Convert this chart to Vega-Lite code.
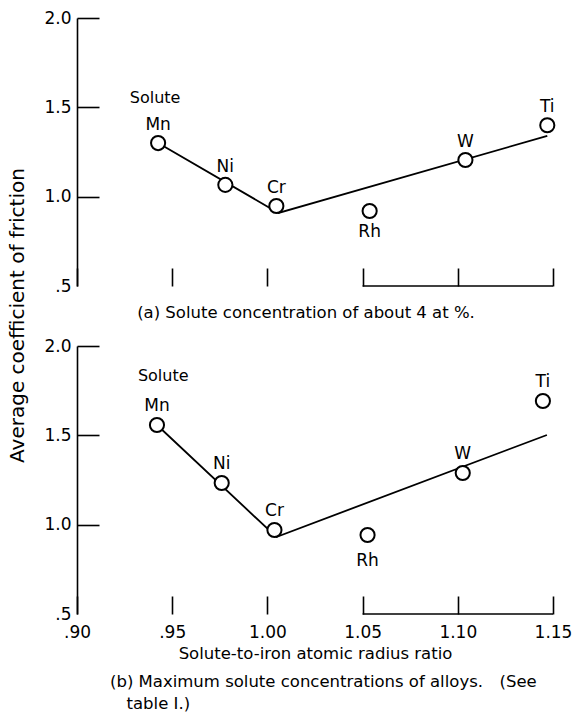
{
  "$schema": "https://vega.github.io/schema/vega-lite/v6.json",
  "background": "white",
  "padding": {"left": 7, "top": 9, "right": 4, "bottom": 4},
  "config": {
    "font": "DejaVu Sans",
    "view": {"stroke": null},
    "axis": {"grid": false, "domainColor": "black", "domainWidth": 1.6, "tickColor": "black", "tickWidth": 1.6, "labelColor": "black", "labelFontSize": 17, "titleColor": "black", "titleFontWeight": "normal", "titleFontSize": 16.5, "labelFont": "DejaVu Sans", "titleFont": "DejaVu Sans"},
    "title": {"fontWeight": "normal", "fontSize": 16.5, "color": "black", "font": "DejaVu Sans"},
    "text": {"color": "black", "font": "DejaVu Sans"}
  },
  "datasets": {
    "points": [
      {"panel": "a", "solute": "Mn", "ratio": 0.9426, "friction": 1.30},
      {"panel": "a", "solute": "Ni", "ratio": 0.9779, "friction": 1.066},
      {"panel": "a", "solute": "Cr", "ratio": 1.0047, "friction": 0.948},
      {"panel": "a", "solute": "Rh", "ratio": 1.0537, "friction": 0.92},
      {"panel": "a", "solute": "W", "ratio": 1.104, "friction": 1.205},
      {"panel": "a", "solute": "Ti", "ratio": 1.147, "friction": 1.40},
      {"panel": "b", "solute": "Mn", "ratio": 0.942, "friction": 1.558},
      {"panel": "b", "solute": "Ni", "ratio": 0.976, "friction": 1.233},
      {"panel": "b", "solute": "Cr", "ratio": 1.0037, "friction": 0.970},
      {"panel": "b", "solute": "Rh", "ratio": 1.0526, "friction": 0.942},
      {"panel": "b", "solute": "W", "ratio": 1.1026, "friction": 1.289},
      {"panel": "b", "solute": "Ti", "ratio": 1.1447, "friction": 1.692}
    ],
    "fit": [
      {"panel": "a", "ratio": 0.9426, "friction": 1.30},
      {"panel": "a", "ratio": 1.0058, "friction": 0.909},
      {"panel": "a", "ratio": 1.147, "friction": 1.34},
      {"panel": "b", "ratio": 0.942, "friction": 1.558},
      {"panel": "b", "ratio": 1.0047, "friction": 0.931},
      {"panel": "b", "ratio": 1.1468, "friction": 1.502}
    ],
    "notes": [
      {"panel": "a", "ratio": 0.941, "friction": 1.552, "note": "Solute"},
      {"panel": "b", "ratio": 0.9453, "friction": 1.832, "note": "Solute"}
    ],
    "baseline": [
      {"panel": "a", "ratio": 1.05, "ratio_end": 1.15, "friction": 0.5},
      {"panel": "b", "ratio": 1.05, "ratio_end": 1.15, "friction": 0.5}
    ]
  },
  "spacing": 60,
  "bounds": "flush",
  "vconcat": [
    {
      "width": 476,
      "height": 268,
      "title": {"text": "(a) Solute concentration of about 4 at %.", "orient": "bottom", "anchor": "middle", "frame": "group", "dx": -9, "offset": 11},
      "encoding": {
        "x": {"field": "ratio", "type": "quantitative", "scale": {"domain": [0.9, 1.15], "nice": false, "zero": false},
          "axis": {"title": null, "labels": false, "values": [0.9, 0.95, 1.0, 1.05, 1.1, 1.15], "tickSize": -18, "domain": false}},
        "y": {"field": "friction", "type": "quantitative", "scale": {"domain": [0.5, 2.0], "nice": false, "zero": false},
          "axis": {"title": null,
            "values": [0.5, 1.0, 1.5, 2.0], "tickSize": -22, "labelPadding": 28,
            "labelExpr": "datum.value == 0.5 ? '.5' : format(datum.value, '.1f')",
            "tickColor": {"condition": {"test": "datum.value == 0.5", "value": "transparent"}, "value": "black"}}}
      },
      "layer": [
        {"data": {"name": "baseline"}, "transform": [{"filter": "datum.panel === 'a'"}],
          "mark": {"type": "rule", "color": "black", "strokeWidth": 1.6},
          "encoding": {"x2": {"field": "ratio_end"}}},
        {"data": {"name": "fit"}, "transform": [{"filter": "datum.panel === 'a'"}],
          "mark": {"type": "line", "color": "black", "strokeWidth": 1.8}},
        {"data": {"name": "points"}, "transform": [{"filter": "datum.panel === 'a'"}],
          "mark": {"type": "point", "shape": "circle", "filled": true, "fill": "white", "stroke": "black", "strokeWidth": 2, "size": 200, "opacity": 1}},
        {"data": {"name": "points"}, "transform": [{"filter": "datum.panel === 'a' && datum.solute !== 'Rh'"}],
          "mark": {"type": "text", "fontSize": 17, "dy": -18, "baseline": "middle"},
          "encoding": {"text": {"field": "solute"}}},
        {"data": {"name": "points"}, "transform": [{"filter": "datum.panel === 'a' && datum.solute === 'Rh'"}],
          "mark": {"type": "text", "fontSize": 17, "dy": 21, "baseline": "middle"},
          "encoding": {"text": {"field": "solute"}}},
        {"data": {"name": "notes"}, "transform": [{"filter": "datum.panel === 'a'"}],
          "mark": {"type": "text", "fontSize": 16, "baseline": "middle"},
          "encoding": {"text": {"field": "note"}}}
      ]
    },
    {
      "width": 476,
      "height": 268,
      "title": {"text": ["(b) Maximum solute concentrations of alloys.\u2002\u2002(See", "\u200b\u2002\u2002table I.)"], "orient": "bottom", "anchor": "start", "align": "left", "frame": "group", "dx": 33, "offset": 12, "lineHeight": 22},
      "encoding": {
        "x": {"field": "ratio", "type": "quantitative", "scale": {"domain": [0.9, 1.15], "nice": false, "zero": false},
          "axis": {"title": "Solute-to-iron atomic radius ratio", "values": [0.9, 0.95, 1.0, 1.05, 1.1, 1.15], "tickSize": -18, "domain": false, "labelPadding": 28, "labelFlush": false, "titlePadding": 5,
            "labelExpr": "datum.value < 1 ? replace(format(datum.value, '.2f'), '0.', '.') : format(datum.value, '.2f')"}},
        "y": {"field": "friction", "type": "quantitative", "scale": {"domain": [0.5, 2.0], "nice": false, "zero": false},
          "axis": {"title": "Average coefficient of friction", "titleFontSize": 20, "titleX": -60, "titleY": -31, "titleBaseline": "middle", "titleAngle": -90, "titleAlign": "center",
            "values": [0.5, 1.0, 1.5, 2.0], "tickSize": -22, "labelPadding": 28,
            "labelExpr": "datum.value == 0.5 ? '.5' : format(datum.value, '.1f')",
            "tickColor": {"condition": {"test": "datum.value == 0.5", "value": "transparent"}, "value": "black"}}}
      },
      "layer": [
        {"data": {"name": "baseline"}, "transform": [{"filter": "datum.panel === 'b'"}],
          "mark": {"type": "rule", "color": "black", "strokeWidth": 1.6},
          "encoding": {"x2": {"field": "ratio_end"}}},
        {"data": {"name": "fit"}, "transform": [{"filter": "datum.panel === 'b'"}],
          "mark": {"type": "line", "color": "black", "strokeWidth": 1.8}},
        {"data": {"name": "points"}, "transform": [{"filter": "datum.panel === 'b'"}],
          "mark": {"type": "point", "shape": "circle", "filled": true, "fill": "white", "stroke": "black", "strokeWidth": 2, "size": 200, "opacity": 1}},
        {"data": {"name": "points"}, "transform": [{"filter": "datum.panel === 'b' && datum.solute !== 'Rh'"}],
          "mark": {"type": "text", "fontSize": 17, "dy": -19, "baseline": "middle"},
          "encoding": {"text": {"field": "solute"}}},
        {"data": {"name": "points"}, "transform": [{"filter": "datum.panel === 'b' && datum.solute === 'Rh'"}],
          "mark": {"type": "text", "fontSize": 17, "dy": 26, "baseline": "middle"},
          "encoding": {"text": {"field": "solute"}}},
        {"data": {"name": "notes"}, "transform": [{"filter": "datum.panel === 'b'"}],
          "mark": {"type": "text", "fontSize": 16, "baseline": "middle"},
          "encoding": {"text": {"field": "note"}}}
      ]
    }
  ]
}
